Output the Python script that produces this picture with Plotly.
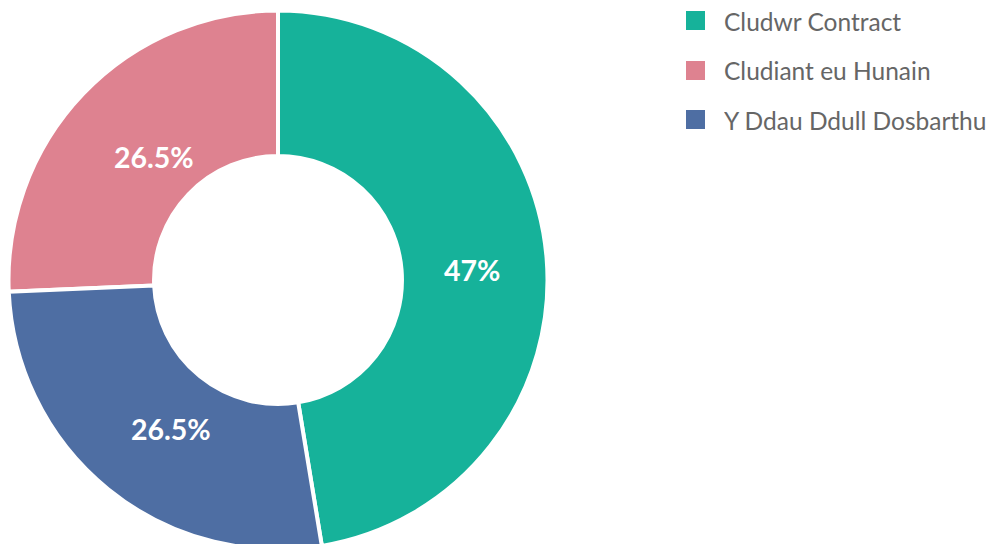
import math
import plotly.graph_objects as go

labels = ["Cludwr Contract", "Cludiant eu Hunain", "Y Ddau Ddull Dosbarthu"]
slice_shares = [47.4, 25.7, 26.9]
# percentages printed on the slices
shown_labels = ["47%", "26.5%", "26.5%"]
colors = ["#16B29A", "#DE8290", "#4E6EA3"]

FONT = "Lato"
W, H = 995, 544
OFF = 8  # default page body margin offset

# pie geometry (figure pixels)
PIE_CX, PIE_CY_TOP, PIE_R = 270, 272, 269.5
LABEL_R = 185          # radius at which the slice labels sit
LABEL_DX, LABEL_DY = 10, 5  # label nudge (px)

fig = go.Figure()
fig.add_trace(go.Pie(
    labels=labels,
    values=slice_shares,
    text=shown_labels,
    sort=False,
    direction="counterclockwise",
    rotation=0,
    hole=0.46,
    marker=dict(colors=colors, line=dict(color="white", width=4)),
    textinfo="none",
    domain=dict(x=[(PIE_CX - PIE_R)/W, (PIE_CX + PIE_R)/W],
                y=[(H - PIE_CY_TOP - PIE_R)/H, (H - PIE_CY_TOP + PIE_R)/H]),
    showlegend=False,
    hoverinfo="label+text",
))

annotations = []
shapes = []

# slice value labels, placed along each slice's bisector
# (plotly counterclockwise pies: first slice starts at rotation + its own span)
total = sum(slice_shares)
spans = [360.0 * s / total for s in slice_shares]
current = spans[0]  # degrees clockwise from 12 o'clock
for span, txt in zip(spans, shown_labels):
    end = current - span
    mid = math.radians((current + end) / 2.0)
    fx = PIE_CX + LABEL_R * math.sin(mid) + LABEL_DX
    fy = PIE_CY_TOP - LABEL_R * math.cos(mid) + LABEL_DY
    annotations.append(dict(text=f"<b>{txt}</b>", xref="paper", yref="paper",
                            x=fx / W, y=1 - fy / H, xanchor="center", yanchor="middle",
                            showarrow=False,
                            font=dict(family=FONT, size=28.5, color="white")))
    current = end

# legend drawn as shapes + annotations
legend_sq_y = [20.5, 70.5, 119.5]
legend_txt_y = [21, 70.5, 120]
for lab, col, sy, ty in zip(labels, colors, legend_sq_y, legend_txt_y):
    sq_paper = 1 - (sy - OFF) / H
    shapes.append(dict(type="rect", xref="paper", yref="paper",
                       x0=(686 - OFF)/W, x1=(705 - OFF)/W,
                       y0=sq_paper - 9.5/H, y1=sq_paper + 9.5/H,
                       fillcolor=col, line=dict(width=0)))
    annotations.append(dict(text=lab, xref="paper", yref="paper",
                            x=(723 - OFF)/W, y=1 - (ty - OFF) / H,
                            xanchor="left", yanchor="middle",
                            height=26, valign="middle", borderpad=0,
                            showarrow=False,
                            font=dict(family=FONT, size=24.5, color="#666666")))

fig.update_layout(
    width=W, height=H,
    margin=dict(l=0, r=0, t=0, b=0),
    paper_bgcolor="white",
    plot_bgcolor="white",
    shapes=shapes,
    annotations=annotations,
)

fig.write_html("out.html")
